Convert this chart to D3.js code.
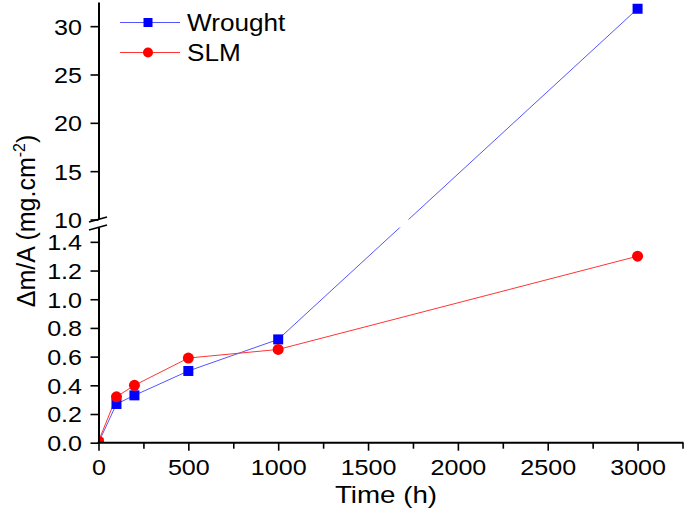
<!DOCTYPE html>
<html>
<head>
<meta charset="utf-8">
<script src="https://cdn.jsdelivr.net/npm/d3@7"></script>
<style>
  html, body { margin: 0; padding: 0; background: #fff; }
  svg { display: block; font-family: "Liberation Sans", Arial, sans-serif; }
</style>
</head>
<body>
<svg id="chart" width="685" height="513"></svg>
<script>
// ---- data ----
const times = [0, 100, 200, 500, 1000, 3000];
const wroughtValues = [0, 0.27, 0.33, 0.50, 0.72, 31.8];
const slmValues = [0.01, 0.32, 0.40, 0.59, 0.65, 1.30];
const seriesNames = ["Wrought", "SLM"];
const xTickValues = [0, 500, 1000, 1500, 2000, 2500, 3000];
const xMinorTickValues = [250, 750, 1250, 1750, 2250, 2750, 3250];
const yLowTickValues = [0, 0.2, 0.4, 0.6, 0.8, 1.0, 1.2, 1.4];
const yHighTickValues = [10, 15, 20, 25, 30];

// ---- layout ----
const svg = d3.select("#chart");
const X0 = 98.5, X1 = 682.5;
const yBottom = 442.7, yLowTop = 227.5, yHighBottom = 219.5, yTop = 2;
const sx = 1.14; // horizontal text stretch

const x = d3.scaleLinear().domain([0, 3250]).range([X0, X1]);
const yLow = d3.scaleLinear().domain([0, 1.5]).range([yBottom, yLowTop]);
const yHigh = d3.scaleLinear().domain([10, 32.5]).range([yHighBottom, yTop]);
const y = v => (v <= 1.5 ? yLow(v) : yHigh(v));

const series = [
  { name: seriesNames[0], values: wroughtValues, color: "#0000ff", line: "#5555ff", shape: "square" },
  { name: seriesNames[1], values: slmValues, color: "#ff0000", line: "#ff3535", shape: "circle" }
];

// clip paths
const defs = svg.append("defs");
const cpLines = defs.append("clipPath").attr("id", "clipLines");
cpLines.append("rect").attr("x", X0).attr("y", 0).attr("width", 685 - X0).attr("height", yHighBottom);
cpLines.append("rect").attr("x", X0).attr("y", yLowTop).attr("width", 685 - X0).attr("height", yBottom - yLowTop);
defs.append("clipPath").attr("id", "clipMarks")
  .append("rect").attr("x", X0).attr("y", 0).attr("width", 685 - X0).attr("height", yBottom);

// ---- lines ----
const lineGen = d3.line().x(d => x(d[0])).y(d => y(d[1]));
const gLines = svg.append("g").attr("clip-path", "url(#clipLines)");
series.forEach(s => {
  gLines.append("path")
    .datum(times.map((t, i) => [t, s.values[i]]))
    .attr("d", lineGen)
    .attr("fill", "none")
    .attr("stroke", s.line)
    .attr("stroke-width", 1);
});

// ---- markers ----
const gMarks = svg.append("g").attr("clip-path", "url(#clipMarks)");
function drawMarker(g, shape, cx, cy, color, size) {
  if (shape === "square") {
    g.append("rect").attr("x", cx - size / 2).attr("y", cy - size / 2)
      .attr("width", size).attr("height", size).attr("fill", color);
  } else {
    g.append("circle").attr("cx", cx).attr("cy", cy).attr("r", size / 2).attr("fill", color);
  }
}
series.forEach(s => {
  times.forEach((t, i) => {
    drawMarker(gMarks, s.shape, x(t), y(s.values[i]), s.color, s.shape === "square" ? 10 : 11);
  });
});

// ---- axes ----
function styleAxis(g) {
  g.selectAll(".domain").attr("stroke", "#000").attr("stroke-width", 2);
  g.selectAll(".tick line").attr("stroke", "#000").attr("stroke-width", 1.6);
  g.selectAll(".tick text").attr("fill", "#000").attr("font-size", 22)
    .attr("font-family", '"Liberation Sans", Arial, sans-serif');
}

// x axis major
const gx = svg.append("g").attr("transform", `translate(0,${yBottom})`)
  .call(d3.axisBottom(x).tickValues(xTickValues).tickSize(8).tickSizeOuter(0).tickFormat(d3.format("d")));
styleAxis(gx);
gx.selectAll(".tick text").attr("y", 0).attr("dy", 0)
  .attr("transform", `translate(0,32.5) scale(${sx},1)`);
gx.select(".domain").attr("d", `M${X0 - 1},0H${X1 + 1}`);
// x axis minor
const gxm = svg.append("g").attr("transform", `translate(0,${yBottom})`)
  .call(d3.axisBottom(x).tickValues(xMinorTickValues).tickSize(6).tickSizeOuter(0).tickFormat(""));
gxm.select(".domain").remove();
gxm.selectAll(".tick line").attr("stroke", "#000").attr("stroke-width", 1.6);

// y axis lower
const gyl = svg.append("g").attr("transform", `translate(${X0},0)`)
  .call(d3.axisLeft(yLow).tickValues(yLowTickValues).tickSize(8).tickSizeOuter(0).tickFormat(d3.format(".1f")));
styleAxis(gyl);
gyl.selectAll(".tick text").attr("x", -16.5 / sx).attr("dy", "0.36em")
  .attr("transform", `scale(${sx},1)`);

// y axis upper
const gyh = svg.append("g").attr("transform", `translate(${X0},0)`)
  .call(d3.axisLeft(yHigh).tickValues(yHighTickValues).tickSize(8).tickSizeOuter(0).tickFormat(d3.format("d")));
styleAxis(gyh);
gyh.selectAll(".tick text").attr("x", -16.5 / sx).attr("dy", "0.36em")
  .attr("transform", `scale(${sx},1)`);

// axis break marks
[yHighBottom, yLowTop].forEach(yy => {
  svg.append("line")
    .attr("x1", X0 - 9.5).attr("y1", yy + 2.5)
    .attr("x2", X0 + 8.5).attr("y2", yy - 2.5)
    .attr("stroke", "#000").attr("stroke-width", 1.8);
});

// ---- axis titles ----
svg.append("text")
  .attr("transform", `translate(386,503) scale(1.18,1)`)
  .attr("text-anchor", "middle")
  .attr("font-size", 23.5)
  .attr("fill", "#000")
  .text("Time (h)");

const yt = svg.append("text")
  .attr("transform", "translate(35,221) rotate(-90)")
  .attr("text-anchor", "middle")
  .attr("font-size", 25)
  .attr("fill", "#000");
yt.append("tspan").text("\u0394m/A (mg.cm");
yt.append("tspan").attr("font-size", 16).attr("dy", -10).text("-2");
yt.append("tspan").attr("dy", 10).text(")");

// ---- legend ----
const legendY = [22.5, 52.5];
series.forEach((s, i) => {
  const g = svg.append("g");
  g.append("line").attr("x1", 120).attr("x2", 180).attr("y1", legendY[i]).attr("y2", legendY[i])
    .attr("stroke", s.line).attr("stroke-width", 1);
  drawMarker(g, s.shape, 148, legendY[i], s.color, s.shape === "square" ? 9 : 10);
  g.append("text")
    .attr("transform", `translate(187,${legendY[i] + 8.5}) scale(1.09,1)`)
    .attr("font-size", 24)
    .attr("fill", "#000")
    .text(s.name);
});
</script>
</body>
</html>
